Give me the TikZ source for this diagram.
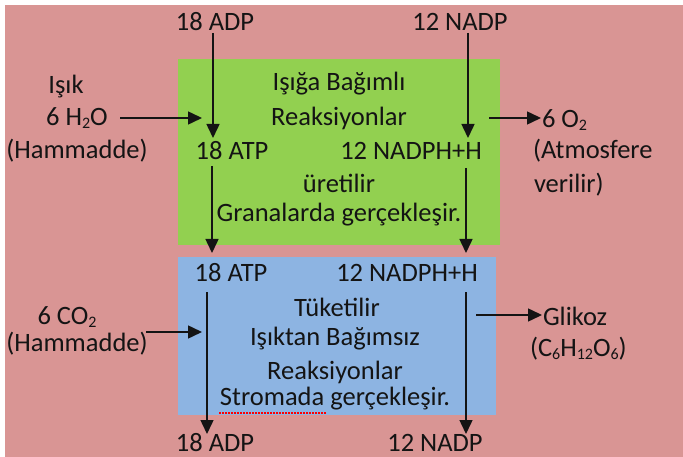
\documentclass[tikz,border=0pt]{standalone}
\usepackage{fontspec}
\setmainfont{Carlito}
\usetikzlibrary{arrows.meta}
\definecolor{bgpink}{HTML}{D99594}
\definecolor{lightgreen}{HTML}{92D050}
\definecolor{lightblue}{HTML}{8DB4E2}
\definecolor{txt}{HTML}{141414}
\newcommand{\sbs}[1]{\raisebox{-3pt}{\fontsize{16}{16}\selectfont #1}}
\tikzset{
  lbl/.style={inner sep=0pt, outer sep=0pt, text=txt, font=\fontsize{26.5}{30}\selectfont},
  arr/.style={line width=1.5pt, draw=txt, -{Triangle[length=14pt,width=13pt]}},
}
\begin{document}
\begin{tikzpicture}[x=1pt,y=-1pt]
\useasboundingbox (0,0) rectangle (683,457);
\fill[white] (0,0) rectangle (683,457);
\fill[bgpink] (5,5) rectangle (683,457);
\fill[lightgreen] (178,59) rectangle (500,245);
\fill[lightblue] (178,257) rectangle (496,415);

% top inputs
\node[lbl] (adpT) at (215,22) {18 ADP};
\node[lbl] (nadpT) at (460,22) {12 NADP};
% left inputs (green)
\node[lbl] (isik) at (66,87) {Işık};
\node[lbl] (hto) at (77,118) {6 H\sbs{2}O};
\node[lbl] (ham1) at (77,151) {(Hammadde)};
% green box text
\node[lbl] (g1) at (339,84) {Işığa Bağımlı};
\node[lbl] (g2) at (339,118) {Reaksiyonlar};
\node[lbl] (atpG) at (232,151) {18 ATP};
\node[lbl] (nadphG) at (411,151) {12 NADPH+H};
\node[lbl] (g3) at (339,183) {üretilir};
\node[lbl] (g4) at (339,215) {Granalarda gerçekleşir.};
% right outputs (green)
\node[lbl, anchor=west] (o2) at (542,120) {6 O\sbs{2}};
\node[lbl, anchor=west] (atm) at (533,151) {(Atmosfere};
\node[lbl, anchor=west] (ver) at (534,185) {verilir)};
% blue box text
\node[lbl] (atpB) at (231,273) {18 ATP};
\node[lbl] (nadphB) at (407,273) {12 NADPH+H};
\node[lbl] (b1) at (337,307) {Tüketilir};
\node[lbl] (b2) at (335,339) {Işıktan Bağımsız};
\node[lbl] (b3) at (335,372) {Reaksiyonlar};
\node[lbl] (b4) at (335,399) {Stromada gerçekleşir.};
% left inputs (blue)
\node[lbl] (cot) at (67,317) {6 CO\sbs{2}};
\node[lbl] (ham2) at (77,344) {(Hammadde)};
% right outputs (blue)
\node[lbl, anchor=west] (glk) at (543,316) {Glikoz};
\node[lbl, anchor=west] (form) at (530,349) {(C\sbs{6}H\sbs{12}O\sbs{6})};
% bottom outputs
\node[lbl] (adpB) at (215,442.5) {18 ADP};
\node[lbl] (nadpB) at (435,442.5) {12 NADP};

% arrow coordinates
\coordinate (a1s) at (213,33);  \coordinate (a1e) at (213,138);
\coordinate (a2s) at (468,33);  \coordinate (a2e) at (468,138);
\coordinate (a3s) at (212,166); \coordinate (a3e) at (212,253);
\coordinate (a4s) at (466,168); \coordinate (a4e) at (466,253);
\coordinate (a5s) at (207,292); \coordinate (a5e) at (207,434);
\coordinate (a6s) at (466,292); \coordinate (a6e) at (466,434);
\coordinate (h1) at (120,118); \coordinate (h2) at (202,118);
\coordinate (o1) at (489,118); \coordinate (o2t) at (541,118);
\coordinate (c1) at (146,332); \coordinate (c2) at (202,332);
\coordinate (gl1) at (476,315); \coordinate (gl2) at (542,315);

\draw[arr] (a1s) -- (a1e);
\draw[arr] (a2s) -- (a2e);
\draw[arr] (a3s) -- (a3e);
\draw[arr] (a4s) -- (a4e);
\draw[arr] (a5s) -- (a5e);
\draw[arr] (a6s) -- (a6e);
\draw[arr] (h1) -- (h2);
\draw[arr] (o1) -- (o2t);
\draw[arr] (c1) -- (c2);
\draw[arr] (gl1) -- (gl2);

% spell-check squiggle
\draw[red, line width=1.2pt, dash pattern=on 1.5pt off 1.5pt] (219,413) -- (327,413);
\end{tikzpicture}
\end{document}
